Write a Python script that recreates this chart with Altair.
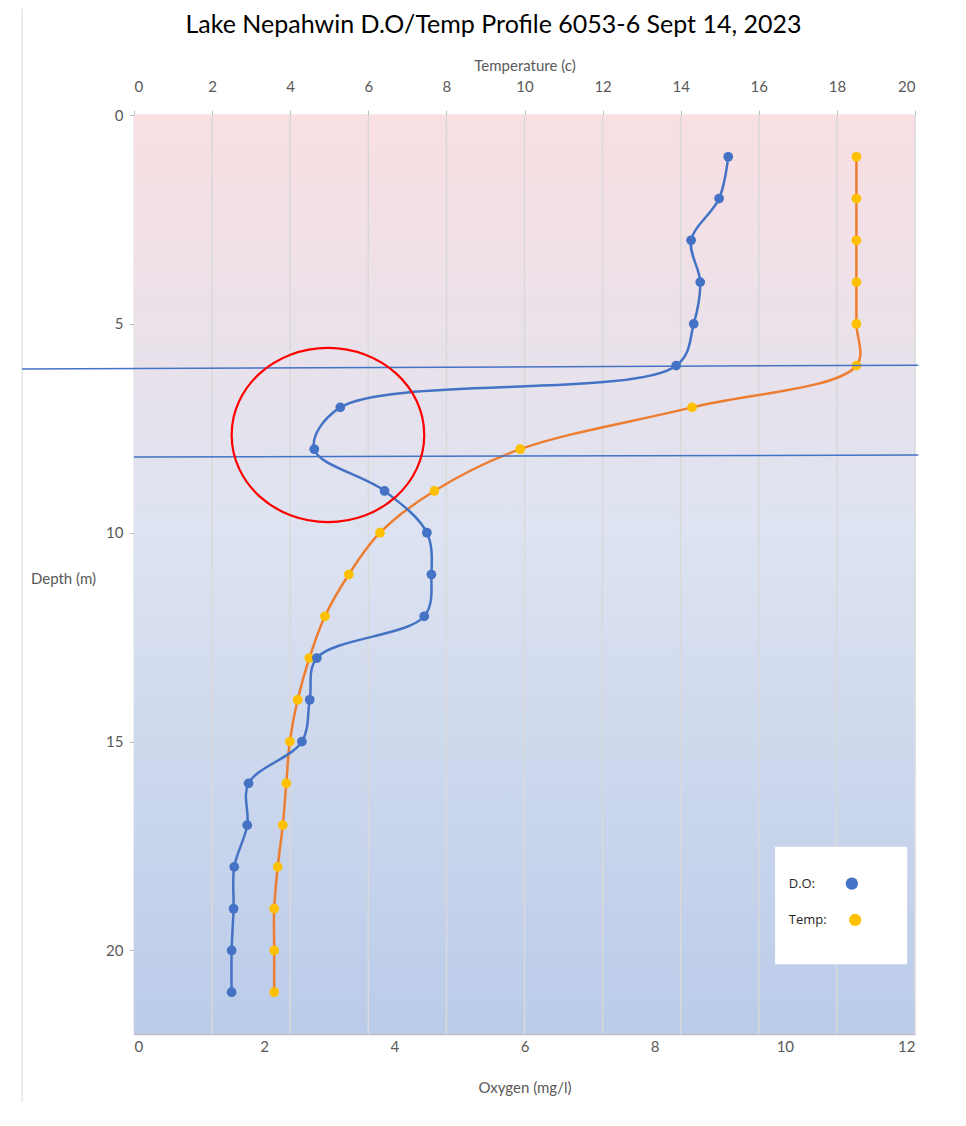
import altair as alt
import pandas as pd

# ---- data ----
depth_m = list(range(1, 22))
oxygen_mgl = [9.13, 8.99, 8.56, 8.70, 8.60, 8.33, 3.17, 2.77, 3.85, 4.50, 4.57,
              4.46, 2.81, 2.70, 2.58, 1.76, 1.74, 1.54, 1.53, 1.50, 1.50]
temperature_c = [18.5, 18.5, 18.5, 18.5, 18.5, 18.5, 14.29, 9.89, 7.69, 6.30, 5.50,
                 4.89, 4.49, 4.19, 3.99, 3.90, 3.81, 3.68, 3.59, 3.59, 3.59]

temp_ticks = [0, 2, 4, 6, 8, 10, 12, 14, 16, 18, 20]
oxy_ticks = [0, 2, 4, 6, 8, 10, 12]
depth_ticks = [0, 5, 10, 15, 20]
grid_temps = [2, 4, 6, 8, 10, 12, 14, 16, 18, 20]

# annotation lines (thermocline markers), in oxygen / depth units
thermo_x0 = [-1.72, 0.0]
thermo_x1 = [12.05, 12.05]
thermo_d0 = [6.08, 8.19]
thermo_d1 = [5.99, 8.14]

# highlighted region (red ellipse) centre
circle_oxy = [2.98]
circle_depth = [7.66]

# legend entries
legend_labels = ["D.O:", "Temp:"]
legend_colors = ["#4472C4", "#FFC000"]

df = pd.DataFrame({"depth": depth_m, "oxygen": oxygen_mgl, "temp": temperature_c})
grid_df = pd.DataFrame({"t": grid_temps})
bg_df = pd.DataFrame({"t0": [temp_ticks[0]], "t1": [temp_ticks[-1]], "d0": [0], "d1": [22]})
thermo_df = pd.DataFrame({"x0": thermo_x0, "x1": thermo_x1, "d0": thermo_d0, "d1": thermo_d1})
circle_df = pd.DataFrame({"oxygen": circle_oxy, "depth": circle_depth})
frame_df = pd.DataFrame({"x": [-1.72], "d0": [-2.55], "d1": [25.0]})
leg_box_df = pd.DataFrame({"x0": [9.85], "x1": [11.88], "d0": [17.52], "d1": [20.33]})
leg_df = pd.DataFrame({"label": legend_labels, "color": legend_colors,
                       "tx": [10.06, 10.06], "px": [11.03, 11.08], "d": [18.40, 19.27]})

BLUE = "#4472C4"
ORANGE = "#ED7D31"
YELLOW = "#FFC000"
AXIS_GRAY = "#BFBFBF"
LABEL = "#595959"
FONT = "Lato"

yscale = alt.Scale(domain=[0, 22], reverse=True, nice=False, zero=False)
tscale = alt.Scale(domain=[0, 20], nice=False, zero=False)
oscale = alt.Scale(domain=[0, 12], nice=False, zero=False)

yaxis = alt.Axis(values=depth_ticks, format="d", title="Depth (m)", titleAngle=0, titleX=-71,
                 titleY=463, titleAlign="center", titleBaseline="middle", titleFontSize=15,
                 titleFontWeight="normal", titleColor=LABEL, titleFont=FONT,
                 grid=False, domainColor=AXIS_GRAY, domainWidth=1.5, tickColor=AXIS_GRAY,
                 tickSize=5, labelPadding=6, labelFontSize=15, labelColor=LABEL, labelFont=FONT)

taxis = alt.Axis(orient="top", values=temp_ticks, format="d", title="Temperature (c)", grid=False,
                 domainColor=AXIS_GRAY, domainWidth=1.5, tickColor=AXIS_GRAY, tickSize=5,
                 labelPadding=16, labelFontSize=15, labelColor=LABEL, labelFont=FONT,
                 titleFontSize=15, titleFontWeight="normal", titleColor=LABEL, titleFont=FONT,
                 titlePadding=6)

oaxis = alt.Axis(orient="bottom", values=oxy_ticks, format="d", title="Oxygen (mg/l)", grid=False,
                 domainColor=AXIS_GRAY, domainWidth=1.5, tickColor=AXIS_GRAY, tickSize=0,
                 labelPadding=5, labelFontSize=15, labelColor=LABEL, labelFont=FONT,
                 titleFontSize=15, titleFontWeight="normal", titleColor=LABEL, titleFont=FONT,
                 titlePadding=26)

gradient = alt.Gradient(
    gradient="linear",
    stops=[alt.GradientStop(color="#F9DFE2", offset=0),
           alt.GradientStop(color="#DDE3F1", offset=0.45),
           alt.GradientStop(color="#BACBE9", offset=1)],
    x1=0, x2=0, y1=0, y2=1,
)

# ---- temperature-scale layer ----
bg = alt.Chart(bg_df).mark_rect(fill=gradient).encode(
    x=alt.X("t0:Q", scale=tscale, axis=taxis),
    x2="t1:Q",
    y=alt.Y("d0:Q", scale=yscale, axis=yaxis),
    y2="d1:Q",
)
grid = alt.Chart(grid_df).mark_rule(color="#D9D9D9", strokeWidth=1.5).encode(
    x=alt.X("t:Q", scale=tscale),
    y=alt.datum(0), y2=alt.datum(22),
)
t_line = alt.Chart(df).mark_line(color=ORANGE, strokeWidth=2.5, interpolate="catmull-rom").encode(
    x=alt.X("temp:Q", scale=tscale),
    y=alt.Y("depth:Q", scale=yscale),
    order="depth:Q",
)
t_pts = alt.Chart(df).mark_circle(color=YELLOW, size=95, opacity=1).encode(
    x=alt.X("temp:Q", scale=tscale),
    y=alt.Y("depth:Q", scale=yscale),
)
temp_layer = alt.layer(bg, grid, t_line, t_pts)

# ---- oxygen-scale layer ----
frame = alt.Chart(frame_df).mark_rule(color="#D9D9D9", strokeWidth=1).encode(
    x=alt.X("x:Q", scale=oscale, axis=oaxis),
    y=alt.Y("d0:Q", scale=yscale), y2="d1:Q",
)
o_line = alt.Chart(df).mark_line(color=BLUE, strokeWidth=2.5, interpolate="catmull-rom").encode(
    x=alt.X("oxygen:Q", scale=oscale),
    y=alt.Y("depth:Q", scale=yscale),
    order="depth:Q",
)
o_pts = alt.Chart(df).mark_circle(color=BLUE, size=95, opacity=1).encode(
    x=alt.X("oxygen:Q", scale=oscale),
    y=alt.Y("depth:Q", scale=yscale),
)
thermo = alt.Chart(thermo_df).mark_rule(color=BLUE, strokeWidth=1.5).encode(
    x=alt.X("x0:Q", scale=oscale), x2="x1:Q",
    y=alt.Y("d0:Q", scale=yscale), y2="d1:Q",
)
k = 0.5523
ry = 0.905
ellipse_path = (
    f"M 1 0 C 1 {k*ry:.4f} {k} {ry} 0 {ry} "
    f"C {-k} {ry} -1 {k*ry:.4f} -1 0 "
    f"C -1 {-k*ry:.4f} {-k} {-ry} 0 {-ry} "
    f"C {k} {-ry} 1 {-k*ry:.4f} 1 0 Z"
)
circle = alt.Chart(circle_df).mark_point(shape=ellipse_path, size=192.6 ** 2, filled=False,
                                         color="#FF0000", strokeWidth=2.2, opacity=1).encode(
    x=alt.X("oxygen:Q", scale=oscale),
    y=alt.Y("depth:Q", scale=yscale),
)
leg_box = alt.Chart(leg_box_df).mark_rect(fill="white").encode(
    x=alt.X("x0:Q", scale=oscale), x2="x1:Q",
    y=alt.Y("d0:Q", scale=yscale), y2="d1:Q",
)
leg_text = alt.Chart(leg_df).mark_text(align="left", baseline="middle", fontSize=13,
                                       font="Open Sans", color="#262626").encode(
    x=alt.X("tx:Q", scale=oscale),
    y=alt.Y("d:Q", scale=yscale),
    text="label:N",
)
leg_pts = alt.Chart(leg_df).mark_circle(size=150, opacity=1).encode(
    x=alt.X("px:Q", scale=oscale),
    y=alt.Y("d:Q", scale=yscale),
    color=alt.Color("color:N", scale=None),
)
oxy_layer = alt.layer(frame, o_line, o_pts, thermo, circle, leg_box, leg_text, leg_pts)

chart = alt.layer(temp_layer, oxy_layer).resolve_scale(x="independent").properties(
    width=781,
    height=919,
    title=alt.TitleParams(text="Lake Nepahwin D.O/Temp Profile 6053-6 Sept 14, 2023",
                          fontSize=25, font=FONT, fontWeight="normal", color="#000000",
                          anchor="middle", dx=-31, offset=-30),
    autosize=alt.AutoSizeParams(type="none"),
    padding={"left": 126, "top": 107, "right": 40, "bottom": 68},
).configure_view(stroke=None)

chart.save("out.html", embed_options={"renderer": "svg", "actions": False})
